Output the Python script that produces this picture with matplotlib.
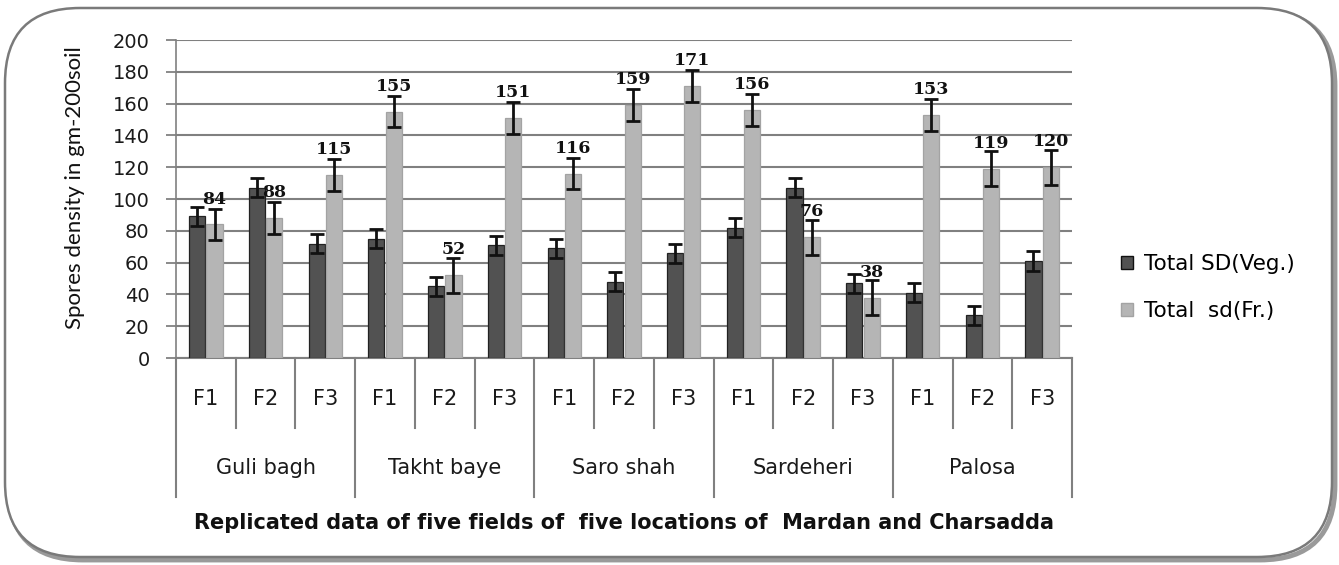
import matplotlib
matplotlib.use("Agg")
import matplotlib.pyplot as plt
from matplotlib.patches import FancyBboxPatch, Patch
import matplotlib.transforms as mtransforms
import numpy as np

locations = ["Guli bagh", "Takht baye", "Saro shah", "Sardeheri", "Palosa"]
fields = ["F1", "F2", "F3"]
veg_values = [89, 107, 72, 75, 45, 71, 69, 48, 66, 82, 107, 47, 41, 27, 61]
veg_errors = [6, 6, 6, 6, 6, 6, 6, 6, 6, 6, 6, 6, 6, 6, 6]
fr_values = [84, 88, 115, 155, 52, 151, 116, 159, 171, 156, 76, 38, 153, 119, 120]
fr_errors = [10, 10, 10, 10, 11, 10, 10, 10, 10, 10, 11, 11, 10, 11, 11]
series_names = ["Total SD(Veg.)", "Total  sd(Fr.)"]
yticks = [0, 20, 40, 60, 80, 100, 120, 140, 160, 180, 200]

W, H = 1339, 565
fig = plt.figure(figsize=(W / 100, H / 100), dpi=100)
plt.rcParams['font.family'] = ['DejaVu Sans']

# background frame
bg = fig.add_axes([0, 0, 1, 1])
bg.set_xlim(0, W)
bg.set_ylim(H, 0)
bg.axis("off")
shadow = FancyBboxPatch((8, 11), 1327, 549, boxstyle="round,pad=0,rounding_size=75",
                        facecolor="none", edgecolor="#9a9a9a", linewidth=3.5, zorder=1)
bg.add_patch(shadow)
frame = FancyBboxPatch((5, 8), 1327, 549, boxstyle="round,pad=0,rounding_size=75",
                       facecolor="white", edgecolor="#7a7a7a", linewidth=1.8, zorder=2)
bg.add_patch(frame)

# plot axes (pixel geometry)
x0, x1, ytop, ybot = 176, 1072, 40, 358
ax = fig.add_axes([x0 / W, (H - ybot) / H, (x1 - x0) / W, (ybot - ytop) / H])
ax.set_facecolor("none")

n = len(veg_values)
x = np.arange(n)
bw = 0.27
off = 0.145
ax.bar(x - off, veg_values, bw, color="#525252", edgecolor="#222222", linewidth=0.9, zorder=3)
ax.bar(x + off, fr_values, bw, color="#b5b5b5", edgecolor="#a3a3a3", linewidth=0.9, zorder=3)
ax.errorbar(x - off, veg_values, yerr=veg_errors, fmt="none", ecolor="#111111",
            elinewidth=2, capsize=5, capthick=2, zorder=4)
ax.errorbar(x + off, fr_values, yerr=fr_errors, fmt="none", ecolor="#111111",
            elinewidth=2, capsize=5, capthick=2, zorder=4)
for xi, v in zip(x, fr_values):
    ax.text(xi + off, v + 16, str(v), ha="center", va="center", fontsize=12.5,
            fontweight="bold", family="DejaVu Serif", color="#111111", zorder=5)

ax.set_xlim(-0.5, n - 0.5)
ax.set_ylim(0, 200)
ax.set_yticks(yticks)
ax.tick_params(axis="y", labelsize=14, length=7, width=1.2, color="#777777", pad=12,
               labelcolor="#1a1a1a")
ax.set_xticks([])
ax.grid(axis="y", color="#808080", linewidth=1.5, zorder=0)
ax.set_axisbelow(True)
for s in ["top", "right"]:
    ax.spines[s].set_visible(False)
ax.spines["left"].set_color("#808080")
ax.spines["left"].set_linewidth(1.2)
ax.spines["bottom"].set_color("#808080")
ax.spines["bottom"].set_linewidth(1.5)

# multi-level category axis
tr = mtransforms.blended_transform_factory(ax.transData, ax.transAxes)
axh = ybot - ytop
short_y = -(428 - ybot) / axh
long_y = -(497 - ybot) / axh
for b in np.arange(n + 1) - 0.5:
    idx = int(b + 0.5)
    yend = long_y if idx % 3 == 0 else short_y
    ax.plot([b, b], [0, yend], transform=tr, color="#808080", linewidth=1.5, clip_on=False)
for i in range(n):
    ax.text(i, -(399 - ybot) / axh, fields[i % 3], transform=tr, ha="center", va="center",
            fontsize=15, color="#1a1a1a")
for g, name in enumerate(locations):
    ax.text(3 * g + 1, -(468 - ybot) / axh, name, transform=tr, ha="center", va="center",
            fontsize=15, color="#1a1a1a")

fig.text(624 / W, 1 - 523 / H, "Replicated data of five fields of  five locations of  Mardan and Charsadda",
         ha="center", va="center", fontsize=15, fontweight="bold", color="#111111")
fig.text(75 / W, 1 - 188 / H, "Spores density in gm-200soil", rotation=90,
         ha="center", va="center", fontsize=16, family=["Lato", "DejaVu Sans"],
         color="#111111")

handles = [Patch(facecolor="#525252", edgecolor="#111111"),
           Patch(facecolor="#b5b5b5", edgecolor="#a3a3a3")]
fig.legend(handles, series_names, loc="center left", bbox_to_anchor=(1110 / W, 1 - 287.5 / H),
           bbox_transform=fig.transFigure, frameon=False, fontsize=15.5, borderpad=0,
           handlelength=0.55, handleheight=0.55, handletextpad=0.55, labelspacing=1.25)

fig.savefig("out.png", dpi=100)
